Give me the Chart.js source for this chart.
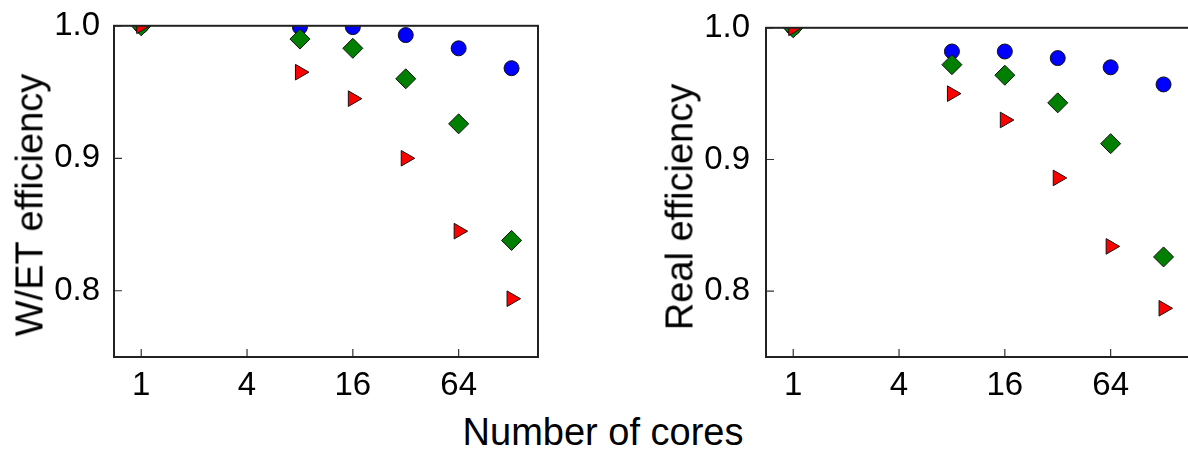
<!DOCTYPE html>
<html>
<head>
<meta charset="utf-8">
<script src="https://cdn.jsdelivr.net/npm/chart.js@4"></script>
<style>
  body { margin: 0; width: 1188px; height: 450px; overflow: hidden; background: #fff; position: relative;
         font-family: "Liberation Sans", Arial, sans-serif; color: #000; }
  .panel { position: absolute; top: 0; width: 560px; height: 400px; }
  .ytitle { position: absolute; font-size: 38px; white-space: nowrap; transform: translate(-50%, -50%) rotate(-90deg); }
  #xtitle { position: absolute; left: 603px; top: 432px; transform: translate(-50%, -50%); font-size: 38px; white-space: nowrap; }
</style>
</head>
<body>
<div class="panel" style="left:0"><canvas id="wet"></canvas></div>
<div class="panel" style="left:650px"><canvas id="real"></canvas></div>
<div class="ytitle" style="left:30px;top:205px">W/ET efficiency</div>
<div class="ytitle" style="left:680px;top:207px">Real efficiency</div>
<div id="xtitle">Number of cores</div>
<script>
const cores = [1, 8, 16, 32, 64, 128];
const xTicks = [1, 4, 16, 64];
const yTicks = [0.8, 0.9, 1.0];

const wetBlue  = [1.0, 0.999, 0.999, 0.993, 0.983, 0.968];
const wetGreen = [1.0, 0.990, 0.983, 0.960, 0.926, 0.838];
const wetRed   = [1.0, 0.965, 0.945, 0.900, 0.845, 0.794];

const realBlue  = [1.0, 0.982, 0.982, 0.977, 0.970, 0.957];
const realGreen = [1.0, 0.972, 0.964, 0.943, 0.912, 0.826];
const realRed   = [1.0, 0.950, 0.930, 0.886, 0.834, 0.787];

const xMin = Math.pow(2, -0.5), xMax = Math.pow(2, 7.5);
const yMin = 0.75, yMax = 1.0;

// box around the plot + inward tick marks
const framePlugin = {
  id: 'frame',
  afterDatasetsDraw(chart) {
    const { ctx, chartArea: { left, top, right, bottom }, scales: { x, y } } = chart;
    ctx.save();
    ctx.strokeStyle = '#333';
    ctx.lineWidth = 1.2;
    ctx.beginPath();
    xTicks.forEach(v => {
      const px = x.getPixelForValue(v);
      ctx.moveTo(px, bottom); ctx.lineTo(px, bottom - 8);
    });
    yTicks.forEach(v => {
      const py = y.getPixelForValue(v);
      ctx.moveTo(left, py); ctx.lineTo(left + 8, py);
    });
    ctx.stroke();
    ctx.strokeStyle = '#222';
    ctx.lineWidth = 2;
    ctx.strokeRect(left, top, right - left, bottom - top);
    ctx.restore();
  }
};

function pts(vals) {
  return cores.map((c, i) => ({ x: c, y: vals[i] }));
}

function makeChart(id, blue, green, red, axisWidth, padRight, labelPad) {
  new Chart(document.getElementById(id), {
    type: 'scatter',
    data: {
      datasets: [{
        data: pts(blue),
        pointStyle: 'circle',
        pointRadius: 7.5,
        pointHoverRadius: 7.5,
        backgroundColor: '#0000ff',
        borderColor: '#111',
        borderWidth: 1,
        clip: 0,
        order: 2
      }, {
        data: pts(green),
        pointStyle: 'rectRot',
        pointRadius: 10,
        pointHoverRadius: 10,
        backgroundColor: '#007f00',
        borderColor: '#111',
        borderWidth: 1,
        clip: 0,
        order: 1
      }, {
        data: pts(red),
        pointStyle: 'triangle',
        rotation: 90,
        pointRadius: 9,
        pointHoverRadius: 9,
        backgroundColor: '#ff0000',
        borderColor: '#111',
        borderWidth: 1,
        clip: 0,
        order: 0
      }]
    },
    options: {
      responsive: true,
      maintainAspectRatio: false,
      animation: false,
      layout: { padding: { top: 23, right: padRight, left: 0, bottom: 0 } },
      plugins: { legend: { display: false }, tooltip: { enabled: false } },
      scales: {
        x: {
          type: 'logarithmic',
          min: xMin,
          max: xMax,
          grid: { display: false },
          border: { display: false },
          ticks: {
            color: '#000',
            font: { size: 33, family: 'Liberation Sans' },
            padding: 1,
            autoSkip: false,
            maxRotation: 0,
            callback: v => String(v)
          },
          afterBuildTicks: s => { s.ticks = xTicks.map(v => ({ value: v })); },
          afterFit: s => { s.height = 43; }
        },
        y: {
          min: yMin,
          max: yMax,
          grid: { display: false },
          border: { display: false },
          ticks: {
            color: '#000',
            font: { size: 33, family: 'Liberation Sans' },
            padding: labelPad,
            callback: v => v.toFixed(1)
          },
          afterBuildTicks: s => { s.ticks = yTicks.map(v => ({ value: v })); },
          afterFit: s => { s.width = axisWidth; }
        }
      }
    },
    plugins: [framePlugin]
  });
}

makeChart('wet', wetBlue, wetGreen, wetRed, 114, 22, 6);
makeChart('real', realBlue, realGreen, realRed, 116, 20, 8);
</script>
</body>
</html>
